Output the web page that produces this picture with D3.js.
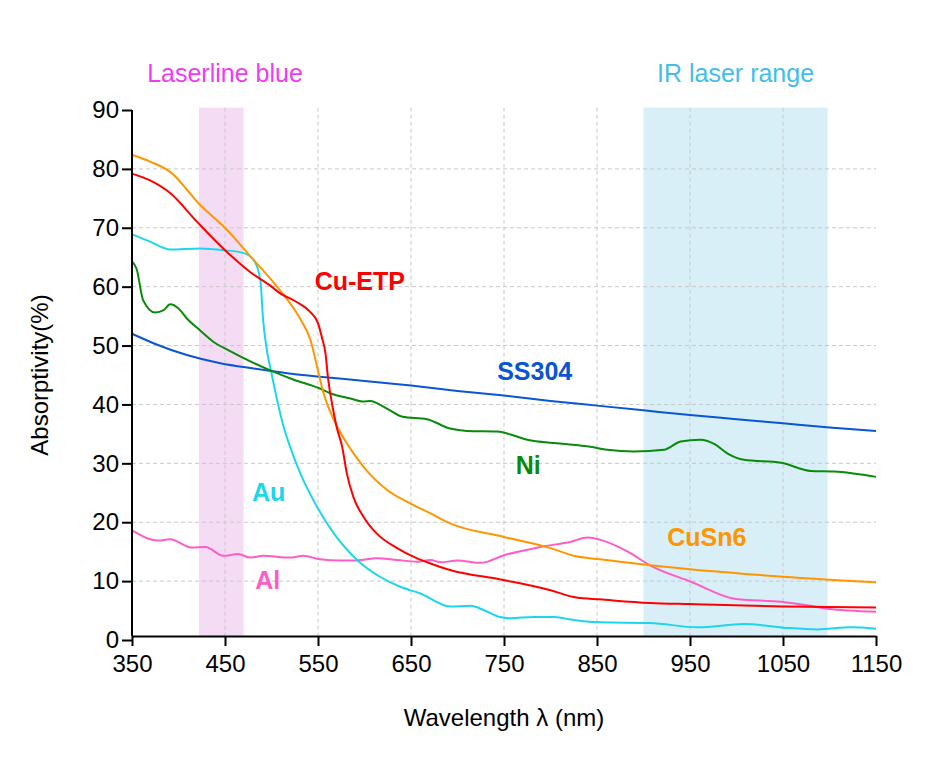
<!DOCTYPE html>
<html><head><meta charset="utf-8">
<script src="https://cdn.jsdelivr.net/npm/d3@7"></script>
<style>body{margin:0;background:#fff}svg{font-family:"Liberation Sans",Arial,sans-serif}</style>
</head><body><svg id="c" width="946" height="768"></svg>
<script>
const xTicks=[350,450,550,650,750,850,950,1050,1150];
const yTicks=[0,10,20,30,40,50,60,70,80,90];
const bands=[{name:"Laserline blue",from:422,to:470,labelAt:450,fill:"#f5dcf5",text:"#f03cf0"},{name:"IR laser range",from:900,to:1098,labelAt:999,fill:"#d8eff7",text:"#45bde8"}];

const cuEtpWl=[350,370,391,420,450,477,500,509,527,541,550,554,558,561,565,570,576,581,588,599,613,635,656,671,692,749,799,828,853,907,950,1050,1150];
const cuEtpVal=[79.2,78.0,75.9,71.0,66.2,62.5,60.0,58.9,57.4,55.8,53.8,51.5,48.7,44.2,40.2,36.2,32.8,28.3,24.3,20.9,18.1,15.6,13.9,13.0,11.9,10.2,8.5,7.2,6.9,6.3,6.1,5.7,5.5];
const cuSn6Wl=[350,370,391,423,450,477,509,531,542,549,556,567,581,599,624,649,671,692,750,800,825,853,907,950,1050,1150];
const cuSn6Val=[82.4,81.2,79.5,73.9,70.0,65.2,59.4,54.5,50.9,46.4,41.9,37.4,33.4,29.4,25.5,23.2,21.5,19.8,17.5,15.6,14.3,13.7,12.7,12.0,10.75,9.8];
const auWl=[350,370,391,423,449,470,481,488,491,495,500,506,513,520,531,549,567,592,617,639,660,692,714,728,746,757,782,804,825,854,907,958,1008,1051,1087,1123,1150];
const auVal=[68.9,67.6,66.3,66.5,66.2,65.7,64.5,61.1,54.3,49.2,45.3,40.8,36.2,32.8,28.3,22.6,18.1,13.6,10.7,9.0,7.9,5.7,5.8,5.1,3.9,3.7,3.9,3.9,3.4,3.0,2.9,2.15,2.7,2.1,1.8,2.15,1.9];
const niWl=[350,355,362,375,384,391,400,409,423,437,455,480,500,524,552,563,585,599,606,624,641,667,692,710,743,757,775,807,843,861,890,922,940,961,976,990,1008,1048,1080,1105,1150];
const niVal=[64.3,63.0,57.7,55.6,56.0,57.0,56.3,54.6,52.6,50.7,49.1,47.1,45.7,44.2,42.7,41.9,41.0,40.5,40.6,39.3,37.9,37.5,35.9,35.5,35.4,34.9,34.0,33.4,32.8,32.3,32.0,32.3,33.7,34.0,33.3,31.7,30.6,30.1,28.7,28.6,27.7];
const ss304Wl=[350,373,409,445,481,517,552,600,650,700,750,800,850,900,950,1000,1050,1100,1150];
const ss304Val=[52.0,50.4,48.4,47.0,46.1,45.3,44.7,44.0,43.2,42.3,41.5,40.6,39.8,39.0,38.2,37.5,36.8,36.1,35.5];
const alWl=[350,378,391,414,429,448,464,477,491,520,534,552,574,592,613,635,657,671,682,700,725,750,789,822,840,854,883,908,951,1001,1048,1076,1098,1150];
const alVal=[18.6,16.9,17.1,15.7,15.8,14.3,14.6,14.0,14.3,14.0,14.3,13.7,13.5,13.5,13.9,13.6,13.3,13.6,13.2,13.5,13.1,14.4,15.8,16.7,17.4,17.0,15.0,12.6,9.9,6.9,6.5,5.9,5.3,4.8];

const series=[
 {name:"Al",wl:alWl,val:alVal,color:"#ff5cc6",lx:496,ly:10.2},
 {name:"Au",wl:auWl,val:auVal,color:"#1ed6ec",lx:497,ly:25.1},
 {name:"SS304",wl:ss304Wl,val:ss304Val,color:"#0a55d2",lx:783,ly:45.7},
 {name:"Ni",wl:niWl,val:niVal,color:"#0a8a0a",lx:776,ly:29.7},
 {name:"CuSn6",wl:cuSn6Wl,val:cuSn6Val,color:"#ff9600",lx:968,ly:17.5},
 {name:"Cu-ETP",wl:cuEtpWl,val:cuEtpVal,color:"#ff0000",lx:595,ly:61.0}
];

const svg=d3.select("#c");
const x=d3.scaleLinear().domain([350,1150]).range([132,876]);
const y=d3.scaleLinear().domain([0,90]).range([640,110]);
const plotTop=y(90.4), plotBottom=636;

svg.append("g").selectAll("rect").data(bands).join("rect")
 .attr("x",d=>x(d.from)).attr("width",d=>x(d.to)-x(d.from))
 .attr("y",plotTop).attr("height",plotBottom-plotTop).attr("fill",d=>d.fill);
svg.append("g").selectAll("text").data(bands).join("text")
 .attr("x",d=>x(d.labelAt)).attr("y",82).attr("text-anchor","middle")
 .attr("font-size",25).attr("fill",d=>d.text).text(d=>d.name);

const grid=svg.append("g").attr("stroke","#c8c8c8").attr("stroke-width",1).attr("stroke-dasharray","4,3");
grid.selectAll("line.v").data(xTicks.filter(t=>t>350&&t<1150)).join("line").attr("class","v")
 .attr("x1",d=>x(d)).attr("x2",d=>x(d)).attr("y1",plotTop).attr("y2",plotBottom);
grid.selectAll("line.h").data(yTicks.filter(t=>t>0&&t<90)).join("line").attr("class","h")
 .attr("x1",x(350)).attr("x2",x(1150)).attr("y1",d=>y(d)).attr("y2",d=>y(d));

const line=d3.line().curve(d3.curveMonotoneX).x(d=>x(d[0])).y(d=>y(d[1]));
svg.append("g").selectAll("path").data(series).join("path")
 .attr("d",s=>line(s.wl.map((w,i)=>[w,s.val[i]])))
 .attr("fill","none").attr("stroke",s=>s.color).attr("stroke-width",2);

svg.append("g").selectAll("text").data(series).join("text")
 .attr("x",s=>x(s.lx)).attr("y",s=>y(s.ly)).attr("dy","0.36em").attr("text-anchor","middle")
 .attr("font-size",25).attr("font-weight","bold").attr("fill",s=>s.color).text(s=>s.name);

const xa=svg.append("g").attr("transform",`translate(0,${plotBottom})`)
 .call(d3.axisBottom(x).tickValues(xTicks).tickFormat(d3.format("d")).tickSize(10).tickSizeOuter(0));
const ya=svg.append("g").attr("transform",`translate(${x(350)},0)`)
 .call(d3.axisLeft(y).tickValues(yTicks).tickSize(10).tickSizeOuter(0));
ya.select(".domain").attr("d",`M0,${y(90)}V${plotBottom}`);
[xa,ya].forEach(a=>{a.selectAll("path,line").attr("stroke","#000").attr("stroke-width",2);
 a.selectAll("text").attr("font-size",24).attr("fill","#000").attr("font-family","Liberation Sans,Arial,sans-serif");});
xa.selectAll("text").attr("dy","0.95em");

svg.append("text").attr("x",(x(350)+x(1150))/2).attr("y",726).attr("text-anchor","middle")
 .attr("font-size",24).text("Wavelength λ (nm)");
svg.append("text").attr("transform",`translate(48,${(y(0)+y(90))/2}) rotate(-90)`).attr("text-anchor","middle")
 .attr("font-size",24).text("Absorptivity(%)");
</script></body></html>
